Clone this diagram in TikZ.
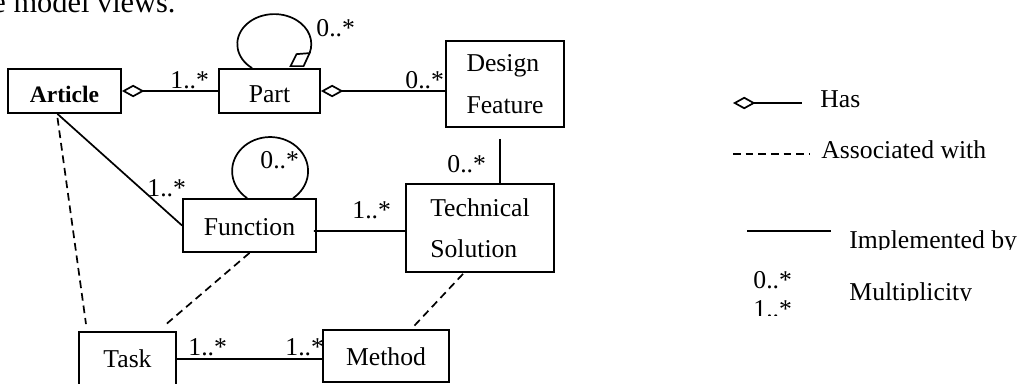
\documentclass[tikz,border=0pt]{standalone}
\usepackage{fontspec}
\setmainfont{Liberation Serif}
\usetikzlibrary{arrows.meta,calc}
\newcommand\pxu{0.4673pt}
\begin{document}
\begin{tikzpicture}[x=0.4673pt,y=-0.4673pt,
  box/.style={draw,line width=0.85pt,inner sep=0pt,font=\fontsize{12}{19.4}\selectfont},
  lbl/.style={inner sep=0pt,anchor=base west,font=\fontsize{12}{14}\selectfont},
  conn/.style={line width=0.8pt},
  assoc/.style={line width=0.8pt,dash pattern=on 3.6pt off 2.3pt},
  has/.style={line width=0.8pt,{Diamond[open,length=10.5pt,width=5.8pt]}-}
]
\useasboundingbox (0,0) rectangle (1022,383);

% cut-off text line above the figure
\node[lbl,font=\fontsize{14.2}{16}\selectfont] (toptext) at (-8,12) {e model views.};

% classes
\node[box,minimum width=113*\pxu,minimum height=44*\pxu,font=\bfseries\fontsize{11}{13}\selectfont,text height=10.3pt,text depth=0pt] (article) at (64.5,91) {Article};
\node[box,minimum width=101*\pxu,minimum height=44*\pxu,text height=11.2pt,text depth=0pt] (part) at (269.5,91) {Part\hspace{9.3pt}};
\node[box,minimum width=118*\pxu,minimum height=86*\pxu,align=left] (design) at (505,84) {Design\\Feature};
\node[box,minimum width=133*\pxu,minimum height=53*\pxu,text height=8.9pt,text depth=0pt] (function) at (249.5,225.5) {Function};
\node[box,minimum width=148*\pxu,minimum height=88*\pxu,align=left] (technical) at (480,228) {Technical\\Solution};
\node[box,minimum width=97*\pxu,minimum height=54*\pxu,text height=7.5pt,text depth=0pt] (task) at (127.5,359) {Task};
\node[box,minimum width=126*\pxu,minimum height=52*\pxu,text height=9.3pt,text depth=0pt] (method) at (386,356) {Method};

% aggregations
\draw[has] (article.east) -- (part.west);
\draw[has] (part.east) -- (part.east -| design.west);

% part self loop with diamond
\draw[conn] ($(part.north west)+(34,0)$) arc[start angle=126.9,end angle=377.5,x radius=37,y radius=30] coordinate (pl);
\draw[conn,line join=miter] (pl) -- ++(-6,13) -- ++(-13,0) -- ++(6,-12) -- cycle;

% function self loop
\draw[conn] ($(function.north west)+(65,0)$) arc[start angle=127.3,end angle=412.7,x radius=38,y radius=34];

% implemented-by lines
\draw[conn] ($(article.south)+(-7,0)$) -- (function.west);
\draw[conn] ($(function.east)+(-3,5.5)$) -- ($(technical.west)+(0,3)$);
\draw[conn] ($(design.south)+(-5,11)$) coordinate (dt) -- (dt |- technical.north);
\draw[conn] (task.east) -- (task.east -| method.west);

% associations
\draw[assoc] ($(article.south)+(-7,4)$) -- ($(task.north)+(-41.5,-7)$);
\draw[assoc] (function.south) -- ($(task.north east)+(-13,-5)$);
\draw[assoc] ($(technical.south)+(-17,1)$) -- ($(method.north)+(28,-3)$);

% multiplicities
\node[lbl] (m1) at (170,88) {1..*};
\node[lbl] (m2) at (316,36) {0..*};
\node[lbl] (m3) at (405,88) {0..*};
\node[lbl] (m4) at (147,196) {1..*};
\node[lbl] (m5) at (260,168) {0..*};
\node[lbl] (m6) at (447,172) {0..*};
\node[lbl] (m7) at (352,218) {1..*};
\node[lbl] (m8) at (188,355) {1..*};
\node[lbl] (m9) at (285,355) {1..*};

% legend
\coordinate (hasA) at (733,103); \coordinate (hasB) at (802,103);
\draw[has] (hasA) -- (hasB);
\node[lbl] (hastxt) at (820,107) {Has};
\coordinate (asA) at (733,154); \coordinate (asB) at (810,154);
\draw[assoc] (asA) -- (asB);
\node[lbl] (astxt) at (821,158) {Associated with};
\coordinate (imA) at (747,231); \coordinate (imB) at (831,231);
\draw[conn] (imA) -- (imB);
\begin{scope}
  \clip (840,215) rectangle (1022,249.5);
  \node[lbl] (imtxt) at (849,248) {Implemented by};
\end{scope}
\node[lbl] (lm0) at (753,288) {0..*};
\begin{scope}
  \clip (740,295) rectangle (800,315.5);
  \node[lbl] (lm1) at (753,317) {1..*};
\end{scope}
\begin{scope}
  \clip (840,270) rectangle (1022,300.5);
  \node[lbl] (mult) at (849,300) {Multiplicity};
\end{scope}
\end{tikzpicture}
\end{document}
